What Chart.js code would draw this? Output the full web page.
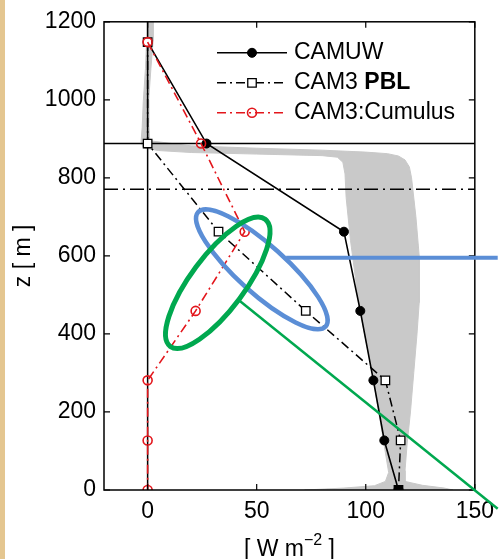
<!DOCTYPE html>
<html>
<head>
<meta charset="utf-8">
<script src="https://cdn.jsdelivr.net/npm/chart.js@4/dist/chart.umd.min.js"></script>
<style>
  html, body { margin: 0; padding: 0; background: #fff; }
  #wrap { position: relative; width: 502px; height: 559px; }
  #strip { position: absolute; left: 0; top: 0; width: 5px; height: 559px; background: #e4c690; }
  canvas { position: absolute; left: 0; top: 0; }
</style>
</head>
<body>
<div id="wrap">
  <canvas id="fluxChart" width="502" height="559"></canvas>
  <div id="strip"></div>
</div>
<script>
const heights = [1148, 888, 662, 459, 281, 127, 0];
const camuw = [0, 27, 90, 97.5, 103.5, 108.5, 115];
const cam3Pbl = [0, 0, 32.5, 72.5, 109, 116, 115];
const cam3Cumulus = [0, 24.5, 44.5, 22, 0, 0, 0];
const seriesLabels = ['CAMUW', 'CAM3 PBL', 'CAM3:Cumulus'];

const xTicks = [0, 50, 100, 150];
const yTicks = [0, 200, 400, 600, 800, 1000, 1200];

const pblTop = 888;      // solid line
const cumulusTop = 771;  // dash-dot line

// grey spread of the other runs, outline as x / z pairs
const spreadX = [-0.5, 2.5, 2.5, 1.5, 0.5, 0.5, 1, 20, 50, 80, 100, 110, 115, 118, 120, 121, 123, 124.5, 124.5, 123.5, 122, 120.5, 119, 118, 118, 126, 136, 140,
  72, 90, 104, 109, 110.5, 108, 103, 97, 93, 91, 90.5, 89.5, 87, 80, 50, 20, 5, -2, -3, -2.5, -2, -1, -0.5];
const spreadZ = [1200, 1200, 1150, 1080, 1000, 940, 895, 882, 876, 871, 866, 862, 856, 846, 828, 800, 700, 600, 480, 400, 300, 200, 120, 50, 22, 12, 5, 0,
  0, 5, 11, 22, 45, 130, 300, 470, 640, 750, 810, 840, 853, 857, 861, 865, 870, 877, 893, 930, 995, 1080, 1150];

// hand drawn highlights, in data units
const blueEllipse = [[23.1, 712], [81.6, 419]];
const greenEllipse = [[10.4, 368], [53.9, 694]];
const blueLine = [[63.5, 595], [160.5, 595]];
const greenLine = [[41, 490], [160.5, -48]];

const toPoints = (xs, zs) => xs.map((v, i) => ({ x: v, y: zs[i] }));
const dashDot = [9, 4, 2, 4];
const fontFamily = '"Liberation Sans", Arial, sans-serif';

Chart.defaults.font.family = fontFamily;
Chart.defaults.font.size = 23;
Chart.defaults.color = '#000';

const framePlugin = {
  id: 'frame',
  afterDatasetsDraw(chart) {
    const { ctx, chartArea: a, scales: { x, y } } = chart;
    ctx.save();
    ctx.strokeStyle = '#000';
    ctx.lineWidth = 1.5;
    ctx.strokeRect(a.left, a.top, a.right - a.left, a.bottom - a.top);
    ctx.lineWidth = 1.2;
    ctx.beginPath();
    xTicks.forEach(v => {
      const px = x.getPixelForValue(v);
      ctx.moveTo(px, a.bottom); ctx.lineTo(px, a.bottom - 6);
      ctx.moveTo(px, a.top); ctx.lineTo(px, a.top + 6);
    });
    yTicks.forEach(v => {
      const py = y.getPixelForValue(v);
      ctx.moveTo(a.left, py); ctx.lineTo(a.left + 6, py);
      ctx.moveTo(a.right, py); ctx.lineTo(a.right - 6, py);
    });
    ctx.stroke();
    ctx.restore();
  }
};

const legendPlugin = {
  id: 'boxLegend',
  afterDraw(chart) {
    const { ctx, chartArea: a } = chart;
    const order = [2, 1, 0]; // dataset index for CAMUW, PBL, Cumulus
    ctx.save();
    order.forEach((di, row) => {
      const ds = chart.data.datasets[di];
      const yy = a.top + 31 + row * 30;
      const x0 = a.left + 113, x1 = a.left + 183, xm = a.left + 148;
      ctx.strokeStyle = ds.borderColor;
      ctx.lineWidth = ds.borderWidth;
      ctx.setLineDash(ds.borderDash || []);
      ctx.beginPath();
      ctx.moveTo(x0, yy); ctx.lineTo(x1, yy);
      ctx.stroke();
      ctx.setLineDash([]);
      ctx.fillStyle = Array.isArray(ds.pointBackgroundColor) ? ds.pointBackgroundColor[0] : ds.pointBackgroundColor;
      ctx.strokeStyle = ds.pointBorderColor;
      ctx.lineWidth = ds.pointBorderWidth;
      Chart.helpers.drawPoint(ctx, { pointStyle: ds.pointStyle, radius: ds.pointRadius, borderWidth: ds.pointBorderWidth, rotation: 0 }, xm, yy);
      ctx.fillStyle = '#000';
      ctx.textBaseline = 'middle';
      ctx.textAlign = 'left';
      let tx = a.left + 190;
      const parts = ds.label.endsWith('PBL') ? [[ds.label.slice(0, -3), ''], ['PBL', 'bold ']] : [[ds.label, '']];
      parts.forEach(([t, w]) => {
        ctx.font = w + '23px ' + fontFamily;
        ctx.fillText(t, tx, yy);
        tx += ctx.measureText(t).width;
      });
    });
    ctx.restore();
  }
};

// x axis title with a raised exponent
const unitTitlePlugin = {
  id: 'unitTitle',
  afterDraw(chart) {
    const { ctx, chartArea: a } = chart;
    const parts = [['[ W m', 23, 0], ['\u22122', 16, -11], [' ]', 23, 0]];
    ctx.save();
    ctx.fillStyle = '#000';
    ctx.textBaseline = 'alphabetic';
    ctx.textAlign = 'left';
    const widths = parts.map(([t, s]) => { ctx.font = s + 'px ' + fontFamily; return ctx.measureText(t).width; });
    let tx = (a.left + a.right) / 2 - widths.reduce((p, w) => p + w, 0) / 2;
    const base = a.bottom + 66;
    parts.forEach(([t, s, dy], i) => {
      ctx.font = s + 'px ' + fontFamily;
      ctx.fillText(t, tx, base + dy);
      tx += widths[i];
    });
    ctx.restore();
  }
};

const markupPlugin = {
  id: 'markup',
  afterDraw(chart) {
    const { ctx, scales: { x, y } } = chart;
    const px = p => [x.getPixelForValue(p[0]), y.getPixelForValue(p[1])];
    ctx.save();
    const ellipse = (ends, half, color, width) => {
      const [p, q] = ends.map(px);
      ctx.beginPath();
      ctx.ellipse((p[0] + q[0]) / 2, (p[1] + q[1]) / 2, Math.hypot(q[0] - p[0], q[1] - p[1]) / 2, half,
        Math.atan2(q[1] - p[1], q[0] - p[0]), 0, Math.PI * 2);
      ctx.strokeStyle = color;
      ctx.lineWidth = width;
      ctx.stroke();
    };
    const segment = (ends, color, width) => {
      const [p, q] = ends.map(px);
      ctx.beginPath();
      ctx.moveTo(p[0], p[1]); ctx.lineTo(q[0], q[1]);
      ctx.strokeStyle = color;
      ctx.lineWidth = width;
      ctx.stroke();
    };
    segment(blueLine, '#5b8ed6', 4);
    ellipse(blueEllipse, 24, '#5b8ed6', 4.5);
    segment(greenLine, '#00a84f', 2.5);
    ellipse(greenEllipse, 27, '#00a84f', 5);
    ctx.restore();
  }
};

const ctx = document.getElementById('fluxChart').getContext('2d');
const chart = new Chart(ctx, {
  type: 'scatter',
  data: {
    datasets: [
      {
        label: seriesLabels[2],
        data: toPoints(cam3Cumulus, heights),
        showLine: true,
        borderColor: '#e3161c',
        borderWidth: 1.6,
        borderDash: dashDot,
        pointStyle: 'circle',
        pointRadius: 4.5,
        pointBorderWidth: 1.6,
        pointBorderColor: '#e3161c',
        pointBackgroundColor: 'rgba(0,0,0,0)',
        order: 0
      },
      {
        label: seriesLabels[1],
        data: toPoints(cam3Pbl, heights),
        showLine: true,
        borderColor: '#000',
        borderWidth: 1.5,
        borderDash: dashDot,
        pointStyle: 'rect',
        pointRadius: 6,
        pointBorderWidth: 1.3,
        pointBorderColor: '#000',
        pointBackgroundColor: heights.map(z => z === 0 ? '#000' : '#fff'),
        order: 1
      },
      {
        label: seriesLabels[0],
        data: toPoints(camuw, heights),
        showLine: true,
        borderColor: '#000',
        borderWidth: 1.6,
        pointStyle: 'circle',
        pointRadius: 4.5,
        pointBorderWidth: 1,
        pointBorderColor: '#000',
        pointBackgroundColor: '#000',
        order: 2
      },
      {
        label: 'pbl top',
        data: [{ x: -20, y: pblTop }, { x: 150, y: pblTop }],
        showLine: true, borderColor: '#000', borderWidth: 1.5, pointRadius: 0, order: 3
      },
      {
        label: 'cumulus top',
        data: [{ x: -20, y: cumulusTop }, { x: 150, y: cumulusTop }],
        showLine: true, borderColor: '#000', borderWidth: 1.5, borderDash: [14, 5, 2, 5], pointRadius: 0, order: 3
      },
      {
        label: 'zero',
        data: [{ x: 0, y: 0 }, { x: 0, y: 1200 }],
        showLine: true, borderColor: '#000', borderWidth: 1.5, pointRadius: 0, order: 3
      },
      {
        label: 'spread',
        data: toPoints(spreadX, spreadZ),
        showLine: true,
        fill: 'shape',
        backgroundColor: '#c9c9c9',
        borderColor: '#c9c9c9',
        borderWidth: 1,
        pointRadius: 0,
        order: 5
      }
    ]
  },
  options: {
    responsive: false,
    animation: false,
    layout: { padding: { top: 20, right: 23, left: 0, bottom: 0 } },
    plugins: {
      legend: { display: false },
      tooltip: { enabled: false }
    },
    scales: {
      x: {
        type: 'linear',
        min: -20,
        max: 150,
        afterBuildTicks: s => { s.ticks = xTicks.map(v => ({ value: v })); },
        afterFit: s => { s.height = 69; },
        grid: { display: false, drawTicks: false },
        border: { display: false },
        ticks: { padding: 8, maxRotation: 0, autoSkip: false, callback: v => String(v) }
      },
      y: {
        min: 0,
        max: 1200,
        afterBuildTicks: s => { s.ticks = yTicks.map(v => ({ value: v })); },
        afterFit: s => { s.width = 104; },
        grid: { display: false, drawTicks: false },
        border: { display: false },
        ticks: { padding: 8, autoSkip: false, callback: v => String(v) },
        title: { display: true, text: 'z [ m ]', padding: { top: 10, bottom: 0 } }
      }
    }
  },
  plugins: [framePlugin, legendPlugin, unitTitlePlugin, markupPlugin]
});
</script>
</body>
</html>
